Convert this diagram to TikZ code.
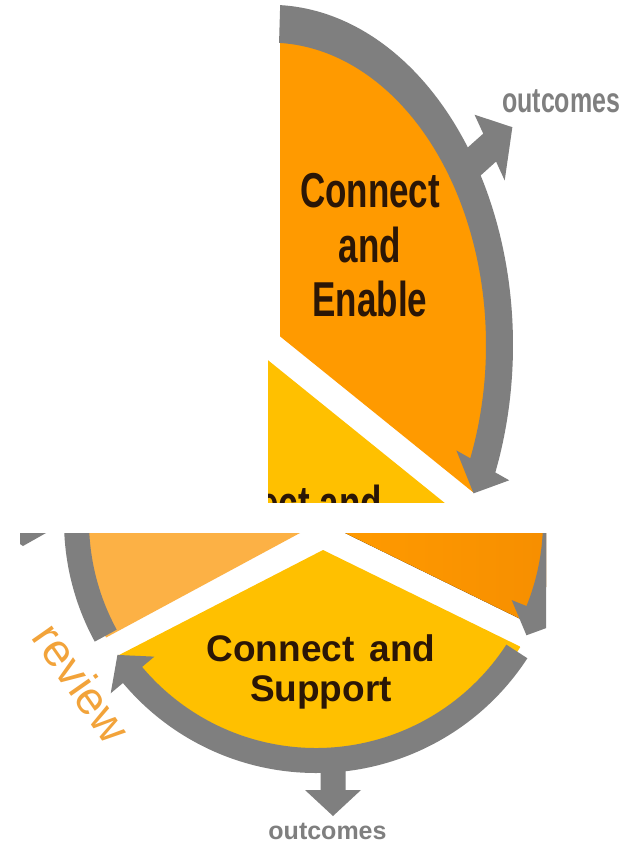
\documentclass[tikz,border=0pt]{standalone}
\usepackage{fontspec}
\setmainfont{Liberation Sans}
\definecolor{cOrange}{HTML}{FF9A00}
\definecolor{cOrangeDk}{HTML}{F08600}
\definecolor{cYellow}{HTML}{FFC000}
\definecolor{cLight}{HTML}{FCB145}
\definecolor{cGray}{HTML}{7F7F7F}
\definecolor{cText}{HTML}{2B1606}
\definecolor{cReview}{HTML}{F2A33A}
\tikzset{
  lblA/.style={font=\bfseries\fontsize{35}{39}\selectfont, text=cText, align=center, inner sep=0pt},
  lblB/.style={font=\bfseries\fontsize{37}{40}\selectfont, text=cText, align=center, inner sep=0pt},
  outc/.style={font=\bfseries\fontsize{25}{28}\selectfont, text=cGray, inner sep=0pt},
  rev/.style={font=\fontsize{46}{50}\selectfont, text=cReview, inner sep=0pt},
  ring/.style={fill=cGray}
}
\begin{document}
\begin{tikzpicture}[x=1pt,y=-1pt]
\fill[white] (0,0) rectangle (634,843);
\useasboundingbox (0,0) rectangle (634,843);

% ---------- upper piece ----------
\begin{scope}
\clip (268,0) rectangle (634,502);
\begin{scope}[shift={(270,345)}, yscale=1.4]
  \begin{scope}
    \clip (0,0) circle[radius=229];
    \fill[cOrange] (10,-260) -- (300,-260) -- (300,161.1) -- (10,-6.2) -- cycle;
    \fill[cYellow] (-60,-22.6) -- (300,185.1) -- (300,300) -- (-60,300) -- cycle;
  \end{scope}
  \fill[ring] (-87.6:243) arc[start angle=-87.6, end angle=22, radius=243]
     -- (22:258) -- (27.5:229.5) -- (22:201) -- (22:216)
     arc[start angle=22, end angle=-87.6, radius=216] -- cycle;
  \fill[ring] (-35.6:235.3) -- (-35.3:261.3) -- (-38.8:262.5) -- (-32.7:288)
     -- (-26.6:262.5) -- (-30.1:261.3) -- (-29.8:235.3) -- cycle;
  \node[lblA, anchor=north, transform shape] (enable) at (100,-122.9) {Connect\\and\\Enable};
  \node[lblA, anchor=north, transform shape] (supporttop) at (6,100) {Connect and};
  \node[outc, anchor=base west, transform shape] (outtop) at (232,-166.4) {outcomes};
\end{scope}
\end{scope}

% ---------- lower piece ----------
\begin{scope}
\clip (20,533) rectangle (546,843);
\begin{scope}
  \clip (316,521) circle[radius=240];
  \fill[cLight] (0,450) -- (305,450) -- (300,533) -- (0,694.7) -- cycle;
  \fill[cYellow] (323,550) -- (0,716.3) -- (0,900) -- (700,900) -- (700,734.7) -- cycle;
  \fill[left color=cOrange, right color=cOrangeDk] (345,533) -- (700,707) -- (700,450) -- (350,450) -- cycle;
\end{scope}
\begin{scope}[shift={(316,521)}]
  \fill[ring] (151.4:252) arc[start angle=151.4, end angle=190, radius=252]
     -- (190:227) arc[start angle=190, end angle=151.4, radius=227] -- cycle;
  \fill[ring] (33:252) arc[start angle=33, end angle=140, radius=252]
     -- (140:268) -- (146:239.5) -- (140:211) -- (140:227)
     arc[start angle=140, end angle=33, radius=227] -- cycle;
  \fill[ring] (-10:252) arc[start angle=-10, end angle=22, radius=252]
     -- (22:268) -- (28.5:239.5) -- (22:211) -- (22:227)
     arc[start angle=22, end angle=-10, radius=227] -- cycle;
\end{scope}
\fill[ring] (320.5,760) -- (345.5,760) -- (345.5,790) -- (361,790) -- (333,816)
   -- (305,790) -- (320.5,790) -- cycle;
\fill[ring] (20,533) -- (46,533) -- (23,546) -- (20,544) -- cycle;
\node[lblB, anchor=north] (support) at (321,634) {Connect\hspace{5pt} and\\Support};
\node[outc, anchor=base] (outbottom) at (327.5,839) {outcomes};
\node[rev, rotate=-55] (review) at (82,683) {review};
\end{scope}
\end{tikzpicture}
\end{document}
